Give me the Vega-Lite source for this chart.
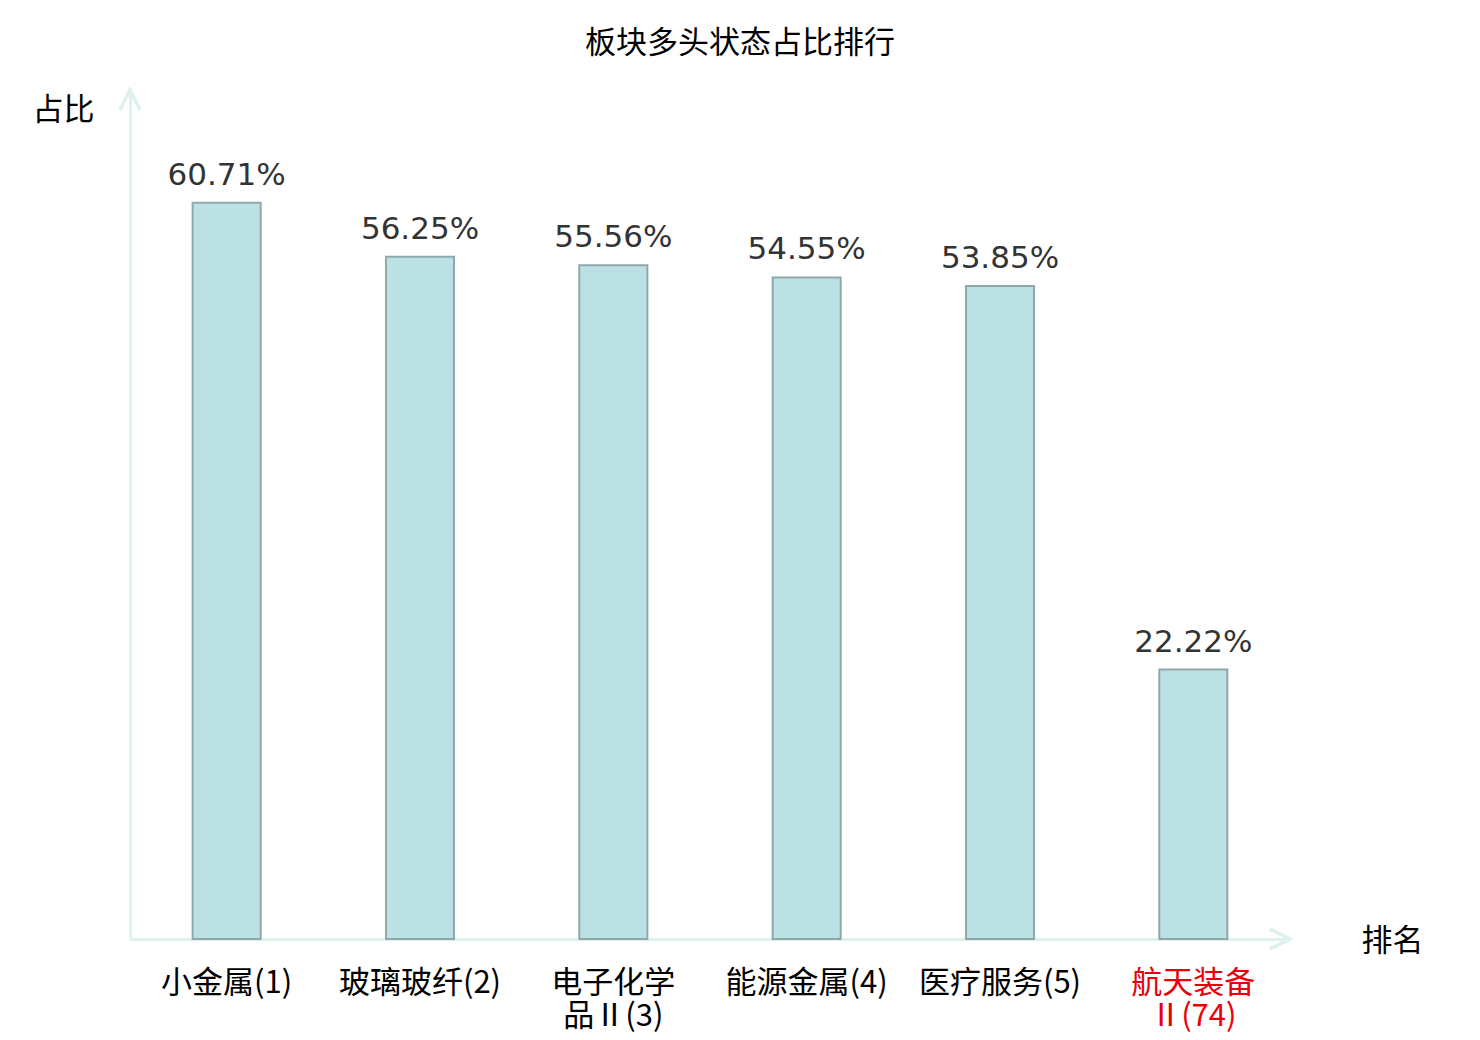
{
  "$schema": "https://vega.github.io/schema/vega-lite/v6.json",
  "width": 1160,
  "height": 849,
  "autosize": "none",
  "padding": {"left": 130, "top": 90, "right": 190, "bottom": 101},
  "background": "white",
  "config": {"view": {"stroke": null}},
  "title": {
    "text": "板块多头状态占比排行",
    "font": "Noto Sans CJK SC",
    "fontSize": 31,
    "fontWeight": "normal",
    "color": "#000000",
    "anchor": "middle",
    "dx": 30,
    "offset": 9,
    "baseline": "middle"
  },
  "data": {
    "values": [
      {"sector": "小金属(1)", "ratio": 0.6071},
      {"sector": "玻璃玻纤(2)", "ratio": 0.5625},
      {"sector": "电子化学品Ⅱ(3)", "ratio": 0.5556},
      {"sector": "能源金属(4)", "ratio": 0.5455},
      {"sector": "医疗服务(5)", "ratio": 0.5385},
      {"sector": "航天装备Ⅱ(74)", "ratio": 0.2222}
    ]
  },
  "layer": [
    {
      "mark": {"type": "bar", "width": {"band": 0.352}, "fill": "#bce1e4", "stroke": "#8fa9ab", "strokeWidth": 2},
      "encoding": {
        "x": {
          "field": "sector",
          "type": "nominal",
          "sort": null,
          "scale": {"paddingInner": 0, "paddingOuter": 0},
          "axis": {
            "domain": true,
            "domainColor": "#dff1ef",
            "domainWidth": 3,
            "ticks": false,
            "grid": false,
            "labelAngle": 0,
            "labelFont": "Noto Sans CJK SC",
            "labelFontSize": 31,
            "labelBaseline": "top",
            "labelLineHeight": 33,
            "labelPadding": 29,
            "labelOverlap": false,
            "labelColor": {"expr": "datum.value == '航天装备Ⅱ(74)' ? '#e8000b' : '#000000'"},
            "labelExpr": "length(datum.label) > 7 ? [substring(datum.label, 0, 4), substring(datum.label, 4)] : datum.label",
            "title": "排名",
            "titleFont": "Noto Sans CJK SC",
            "titleFontSize": 31,
            "titleFontWeight": "normal",
            "titleColor": "#000000",
            "titleAlign": "center",
            "titleBaseline": "middle",
            "titleX": 1262,
            "titleY": 2
          }
        },
        "y": {
          "field": "ratio",
          "type": "quantitative",
          "scale": {"domain": [0, 0.7]},
          "axis": {
            "domain": true,
            "domainColor": "#dff1ef",
            "domainWidth": 3,
            "ticks": false,
            "labels": false,
            "grid": false,
            "title": "占比",
            "titleFont": "Noto Sans CJK SC",
            "titleFontSize": 31,
            "titleFontWeight": "normal",
            "titleColor": "#000000",
            "titleAngle": 0,
            "titleAlign": "center",
            "titleBaseline": "middle",
            "titleX": -67,
            "titleY": 20
          }
        }
      }
    },
    {
      "mark": {"type": "text", "font": "DejaVu Sans", "fontSize": 31, "color": "#333333", "baseline": "alphabetic", "dy": -18},
      "encoding": {
        "x": {"field": "sector", "type": "nominal", "sort": null},
        "y": {"field": "ratio", "type": "quantitative"},
        "text": {"field": "ratio", "type": "quantitative", "format": ".2%"}
      }
    },
    {
      "mark": {"type": "point", "shape": "M -0.5 1 L 0 0 L 0.5 1", "filled": false, "stroke": "#dff1ef", "strokeWidth": 3, "size": 1600, "opacity": 1},
      "encoding": {
        "x": {"value": 0},
        "y": {"datum": 0.7}
      }
    },
    {
      "mark": {"type": "point", "shape": "M -0.5 1 L 0 0 L 0.5 1", "angle": 90, "filled": false, "stroke": "#dff1ef", "strokeWidth": 3, "size": 1600, "opacity": 1},
      "encoding": {
        "x": {"value": "width"},
        "y": {"datum": 0}
      }
    }
  ]
}
